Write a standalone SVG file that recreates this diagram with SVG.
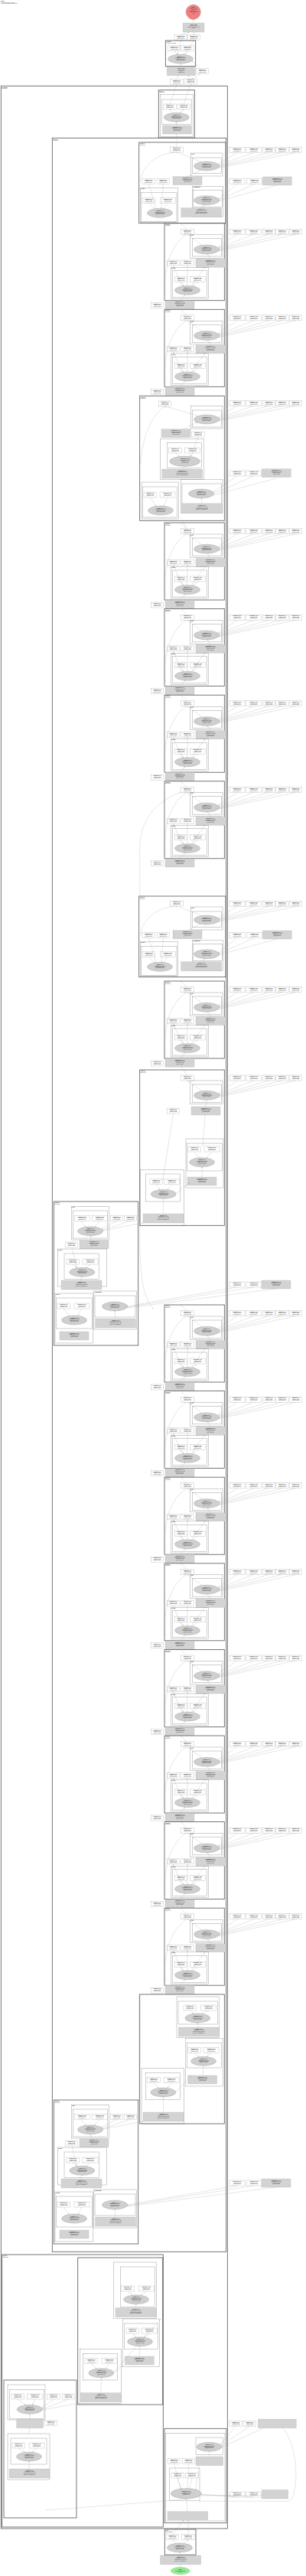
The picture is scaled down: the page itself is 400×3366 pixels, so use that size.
<svg xmlns="http://www.w3.org/2000/svg" width="400" height="3366" viewBox="0 0 400 3366">
<style>
.c{fill:none;stroke:#777;stroke-width:.35}
.k{fill:none;stroke:#555;stroke-width:.8}
.w{fill:#fff;stroke:#888;stroke-width:.25}
.g{fill:#d3d3d3;stroke:#aaa;stroke-width:.25}
.e{fill:#cfcfcf;stroke:#888;stroke-width:.3}
text{font-family:"Liberation Sans",Arial,sans-serif;font-size:1.35px;fill:#222}
.t{text-anchor:middle}
.b{font-weight:bold}
.l{fill:none;stroke:#999;stroke-width:.25;marker-end:url(#a)}
</style>
<defs>
<marker id="a" viewBox="0 0 4 4" refX="4" refY="2" markerWidth="1.1" markerHeight="1.1" markerUnits="userSpaceOnUse" orient="auto"><path d="M0,0L4,2L0,4z" fill="#888"/></marker>
<g id="w"><rect class="w" width="16.5" height="7"/><text class="t" x="8.25" y="2.3"><tspan class="b">batchnorm_2_8</tspan><tspan x="8.25" dy="1.5">1x256 (1.1 KB)</tspan><tspan x="8.25" dy="1.5">@running_mean</tspan></text></g>
<g id="W"><rect class="w" width="20" height="7"/><text class="t" x="10" y="2.3"><tspan class="b">batchnorm_2_8:2</tspan><tspan x="10" dy="1.5">1x256 (1.1 KB)</tspan><tspan x="10" dy="1.5">@bn.running_var</tspan></text></g>
<g id="gb"><rect class="g" width="38" height="11"/><text class="t" x="19" y="2.6"><tspan class="b">batchnorm_12_41</tspan><tspan x="19" dy="1.6">1x256x56x56 (3.1 MB)</tspan><tspan x="19" dy="1.6">params: 256, 256</tspan><tspan x="19" dy="1.6">@layer1.0.bn3</tspan></text></g>
<g id="gB"><rect class="g" width="53" height="12"/><text class="t" x="26.5" y="2.8"><tspan class="b">conv2d_13_42</tspan><tspan x="26.5" dy="1.6">1x256x56x56 (3.1 MB)</tspan><tspan x="26.5" dy="1.6">params: 256x64x1x1, 256</tspan><tspan x="26.5" dy="1.6">@layer1.0.downsample.0</tspan></text></g>
<g id="el"><ellipse class="e" rx="16.5" ry="6"/><text class="t" y="-2.3"><tspan class="b">conv2d_12_40</tspan><tspan x="0" dy="1.5">1x256x56x56 (3.1 MB)</tspan><tspan x="0" dy="1.5">params: 256x64x1x1</tspan><tspan x="0" dy="1.5">@layer1.0.conv3</tspan></text></g>
<g id="elB"><ellipse class="e" rx="20" ry="6.7"/><text class="t" y="-2.3"><tspan class="b">batchnorm_11_38</tspan><tspan x="0" dy="1.5">1x64x56x56 (784 KB)</tspan><tspan x="0" dy="1.5">params: 64, 64</tspan><tspan x="0" dy="1.5">@layer1.0.bn2</tspan></text></g>

<g id="nb">
<rect class="k" x="215" y="0" width="78.3" height="101"/>
<text x="216" y="2.2" class="b">@layer3.1</text><text x="216" y="3.7">(Bottleneck)</text>
<use href="#w" x="236.7" y="7.6"/>
<rect class="c" x="248.3" y="15" width="42.7" height="30.6"/><text x="249" y="16.7" class="b">@bn1</text>
<rect class="c" x="251.7" y="20" width="37.6" height="23.3"/>
<use href="#el" x="270" y="34.3"/>
<use href="#gb" x="256" y="46.6"/>
<use href="#w" x="218.3" y="48.3"/><use href="#w" x="236.7" y="48.3"/>
<rect class="c" x="223.3" y="57.6" width="49.4" height="41.4"/><text x="224" y="59.3" class="b">@conv1</text>
<rect class="c" x="225.5" y="62" width="45.2" height="35"/>
<use href="#w" x="228.3" y="70"/><use href="#W" x="248.3" y="70"/>
<use href="#el" x="245" y="87.6"/>
<use href="#gb" x="216" y="101.2"/>
<use href="#w" x="197.3" y="104"/>
<use href="#W" x="300" y="7.6"/><use href="#W" x="321.7" y="7.6"/><use href="#w" x="343.3" y="7.6"/><use href="#w" x="360.5" y="7.6"/><use href="#w" x="378.3" y="7.6"/>
</g>
<g id="nbE">
<path class="l" d="M310,14.6L285.5,31"/><path class="l" d="M331.7,14.6L286,32.5"/><path class="l" d="M351.5,14.6L286.3,33.8"/><path class="l" d="M368.7,14.6L286.3,35"/><path class="l" d="M386.5,14.6L286,36.3"/>
<path class="l" d="M264,28.7L245,14.8"/><path class="l" d="M275,46.6L271.5,40.3"/><path class="l" d="M250,81.8L268,57.4"/>
<path class="l" d="M238,81.8L226.5,55.5"/><path class="l" d="M245,81.6L245,55.5"/>
<path class="l" d="M236.5,77L240,81.5"/><path class="l" d="M258.3,77L252,81.7"/>
<path class="l" d="M235,101.2L242,93.5"/><path class="l" d="M216.2,96C213,60 222,30 243,14.8"/>
<path class="l" d="M244,7.6L236,-0.2"/>
</g>

<g id="wb">
<rect class="k" x="181.7" y="0" width="113.3" height="105.7"/>
<text x="182.7" y="2.2" class="b">@layer1.0</text><text x="182.7" y="3.7">(Bottleneck)</text>
<use href="#w" x="222.7" y="6"/>
<rect class="c" x="249.3" y="14" width="41.7" height="30"/><text x="250" y="15.7" class="b">@bn3</text>
<rect class="c" x="251.7" y="20" width="37.6" height="20.7"/>
<use href="#el" x="270" y="31"/>
<use href="#w" x="186" y="47.3"/><use href="#w" x="205" y="47.3"/>
<use href="#gb" x="226" y="44.7"/>
<use href="#W" x="300" y="47.3"/><use href="#W" x="322.7" y="47.3"/><use href="#gb" x="343.3" y="45"/>
<rect class="c" x="183.3" y="59.7" width="49.4" height="45"/><text x="184" y="61.4" class="b">@conv3</text>
<rect class="c" x="184.7" y="65.7" width="46.3" height="38"/>
<use href="#w" x="186.3" y="72.3"/><use href="#W" x="209.3" y="72.3"/>
<use href="#el" x="209" y="92.3"/>
<rect class="c" x="251.7" y="57.3" width="40" height="40"/><text x="252.5" y="59" class="b">@downsample</text>
<rect class="c" x="252.7" y="62.7" width="37.6" height="22"/>
<use href="#el" x="270" y="75.7"/>
<use href="#gB" x="236.7" y="85.7"/>
<use href="#W" x="300" y="6.7"/><use href="#W" x="321.7" y="6.7"/><use href="#w" x="343.3" y="6.7"/><use href="#w" x="360.5" y="6.7"/><use href="#w" x="378.3" y="6.7"/>
</g>
<g id="wbE">
<path class="l" d="M310,13.7L285.5,28"/><path class="l" d="M331.7,13.7L286,29.5"/><path class="l" d="M351.5,13.7L286.3,30.8"/><path class="l" d="M368.7,13.7L286.3,32"/><path class="l" d="M386.5,13.7L286,33.3"/>
<path class="l" d="M310,54.3L286,74"/><path class="l" d="M332.7,54.3L286.3,75.3"/><path class="l" d="M362,56L286.3,76.5"/>
<path class="l" d="M264,25.8L231.5,13"/><path class="l" d="M245,44.7L262,36.5"/>
<path class="l" d="M194.3,54.3L204,86.6"/><path class="l" d="M213.3,54.3L211,86.3"/>
<path class="l" d="M194.5,79.3L202,86.7"/><path class="l" d="M219.3,79.3L214,86.5"/>
<path class="l" d="M263,85.7L268,81.7"/>
<path class="l" d="M183.6,52C185,30 205,14 230.9,13"/>
</g>

<g id="lb">
<rect class="k" x="70.3" y="0" width="110.4" height="188"/>
<text x="71.3" y="2.2" class="b">@layer3.0</text><text x="71.3" y="3.7">(Bottleneck)</text>
<rect class="c" x="93.3" y="6.7" width="49.4" height="43.3"/><text x="94" y="8.4" class="b">@bn1</text>
<rect class="c" x="95.3" y="12" width="45.4" height="36"/>
<use href="#W" x="97.3" y="18.3"/><use href="#W" x="120.3" y="18.3"/>
<use href="#el" x="118" y="38.7"/>
<use href="#w" x="144.3" y="18.3"/><use href="#w" x="162.3" y="18.3"/>
<use href="#gb" x="104" y="50.7"/><use href="#w" x="85.3" y="53"/>
<rect class="c" x="75.3" y="62" width="64" height="49"/><text x="76" y="63.7" class="b">@conv1</text>
<rect class="c" x="84" y="68" width="45.7" height="33.7"/>
<use href="#w" x="87" y="75"/><use href="#W" x="108" y="75"/>
<use href="#el" x="107.3" y="92.3"/>
<use href="#gB" x="80" y="103"/>
<rect class="c" x="72" y="120" width="49.7" height="65"/><text x="72.7" y="121.7" class="b">@conv3</text>
<rect class="c" x="73.5" y="126" width="46.7" height="40"/>
<use href="#w" x="75" y="133"/><use href="#W" x="97" y="133"/>
<use href="#el" x="97" y="155"/>
<use href="#gb" x="78" y="170"/>
<rect class="c" x="122.7" y="117" width="55.6" height="50"/><text x="123.4" y="118.7" class="b">@downsample</text>
<rect class="c" x="124" y="123" width="53" height="28"/>
<use href="#el" x="150" y="137"/>
<use href="#gB" x="124.5" y="153"/>
<use href="#W" x="300" y="105"/><use href="#W" x="322" y="105"/><use href="#gb" x="342" y="103"/>
</g>
<g id="lbE">
<path class="l" d="M105.3,25.3L112,33"/><path class="l" d="M130.3,25.3L124,33"/>
<path class="l" d="M152.5,25.3L133,36"/><path class="l" d="M170.5,25.3L134,37.5"/>
<path class="l" d="M120,50.7L118,44.7"/><path class="l" d="M134.5,38L187,28"/>
<path class="l" d="M95,82L101,86.5"/><path class="l" d="M118,82L112,86.5"/>
<path class="l" d="M105,103L107,98.3"/><path class="l" d="M94,60L100,86.5"/>
<path class="l" d="M83,140L90,149.3"/><path class="l" d="M107,140L102,149.2"/>
<path class="l" d="M151,153L150,143"/>
<path class="l" d="M310,112L166,137"/><path class="l" d="M332,112L166.3,138"/><path class="l" d="M361,114L166.5,139"/>
</g>
</defs>

<g id="legend">
<text x="1" y="2.2" class="b">ResNet</text>
<text x="1" y="3.8">3,418 tensors total (640.7 MB)</text>
<text x="1" y="5.4">44,654,504 params total (170.5 MB)</text>
</g>

<g id="clusters">
<rect class="k" x="1.3" y="112.3" width="296" height="3191.7"/>
<text x="2.3" y="114.5" class="b">@backbone</text><text x="2.3" y="116">(Sequential)</text>
<rect class="k" x="68.3" y="180.3" width="227.4" height="2762"/>
<text x="69.3" y="182.5" class="b">@layer3</text><text x="69.3" y="184">(Sequential)</text>
<rect class="k" x="2.7" y="2946" width="210.6" height="356"/>
<text x="3.7" y="2948.2" class="b">@layer2</text><text x="3.7" y="2949.7">(Sequential)</text>
</g>

<g id="output">
<circle cx="252.7" cy="15.7" r="9.7" fill="#f08080" stroke="#999" stroke-width=".3"/>
<text class="t" x="252.7" y="10"><tspan class="b">output_1</tspan><tspan x="252.7" dy="1.6">1x1000 (4.0 KB)</tspan><tspan x="252.7" dy="1.6">@output</tspan><tspan x="252.7" dy="1.6">linear_1_339</tspan><tspan x="252.7" dy="1.6">params: 1000x2048</tspan><tspan x="252.7" dy="1.6">@fc</tspan></text>
</g>
<g id="fc">
<rect class="g" x="239" y="30" width="28" height="12"/>
<text class="t" x="253" y="32.6"><tspan class="b">linear_1_339</tspan><tspan x="253" dy="1.6">1x1000 (4.0 KB)</tspan><tspan x="253" dy="1.6">params: 1000x2048, 1000</tspan><tspan x="253" dy="1.6">@fc</tspan></text>
</g>
<g id="top_params"><use href="#w" x="228" y="45.7"/><use href="#w" x="245" y="45.7"/></g>
<g id="avgpool">
<rect class="k" x="216.3" y="53" width="39.4" height="33.7"/>
<text x="217.3" y="55" class="b">@avgpool</text><text x="217.3" y="56.5">(AdaptiveAvgPool2d)</text>
<use href="#w" x="219.3" y="59.3"/><use href="#w" x="236.7" y="59.3"/>
<use href="#el" x="236" y="77"/>
</g>
<g id="flat"><rect class="g" x="218.3" y="87.3" width="37" height="11.4"/>
<text class="t" x="236.8" y="90"><tspan class="b">flatten_1_338</tspan><tspan x="236.8" dy="1.6">1x2048 (8.1 KB)</tspan><tspan x="236.8" dy="1.6">@flatten</tspan><tspan x="236.8" dy="1.6">params: none</tspan></text></g>
<g id="p_top2"><use href="#w" x="256.3" y="89.3"/><use href="#w" x="222.7" y="103.3"/><use href="#w" x="241" y="103"/></g>

<g id="layer4_last">
<rect class="k" x="207.3" y="117.7" width="47" height="62.3"/>
<text x="208.3" y="119.7" class="b">@layer4</text><text x="208.3" y="121.2">(Sequential)</text>
<rect class="c" x="209.3" y="123.7" width="43.4" height="54.6"/>
<rect class="c" x="211.3" y="130" width="39.4" height="32.3"/>
<use href="#w" x="213.7" y="136"/><use href="#w" x="232" y="136"/>
<use href="#el" x="230.7" y="153.3"/>
<use href="#gb" x="212.5" y="164"/>
</g>

<g id="block_E"><use href="#wb" y="186"/></g>
<g id="block_H"><use href="#nb" y="291.7"/></g>
<g id="block_I"><use href="#nb" y="404.3"/></g>
<g id="block_J">
<rect class="k" x="182.7" y="517.3" width="110.6" height="163"/>
<text x="183.7" y="519.5" class="b">@layer3.0</text><text x="183.7" y="521">(Bottleneck)</text>
<use href="#w" x="207.3" y="524"/>
<rect class="c" x="249.3" y="530.7" width="41.7" height="29.3"/>
<rect class="c" x="251.7" y="536" width="37.6" height="22"/>
<use href="#el" x="270" y="548"/>
<use href="#W" x="300" y="523.3"/><use href="#W" x="321.7" y="523.3"/><use href="#w" x="343.3" y="523.3"/><use href="#w" x="360.5" y="523.3"/><use href="#w" x="378.3" y="523.3"/>
<use href="#gb" x="211" y="560.7"/><use href="#w" x="250.7" y="564"/>
<rect class="c" x="209.3" y="573.3" width="57.4" height="53.4"/>
<rect class="c" x="218.3" y="578.3" width="45" height="33.4"/>
<use href="#w" x="220.7" y="585"/><use href="#W" x="241.7" y="585"/>
<use href="#elB" x="241.7" y="602.7"/>
<use href="#gB" x="211.7" y="613"/>
<use href="#W" x="300" y="615"/><use href="#W" x="321.7" y="615"/><use href="#gb" x="342.3" y="612.7"/>
<rect class="c" x="185" y="630" width="48.3" height="48"/>
<rect class="c" x="186.5" y="636" width="45.3" height="40"/>
<use href="#w" x="188" y="643"/><use href="#W" x="209" y="643"/>
<use href="#el" x="210" y="667"/>
<rect class="c" x="236.7" y="626.7" width="54.3" height="44"/>
<rect class="c" x="238" y="632" width="51.5" height="26"/>
<use href="#el" x="263" y="645"/>
<use href="#gB" x="237.5" y="658.5"/>
</g>
<g id="blocks_a">
<use href="#nb" y="683"/><use href="#nb" y="795.6"/><use href="#nb" y="908.2"/><use href="#nb" y="1020.8"/>
</g>
<g id="block_W2"><use href="#wb" y="1171"/></g>
<g id="block_N2"><use href="#nb" y="1282"/></g>
<g id="block_S1">
<rect class="k" x="182.7" y="1398" width="110.6" height="203.3"/>
<text x="183.7" y="1400.2" class="b">@layer3.0</text><text x="183.7" y="1401.7">(Bottleneck)</text>
<use href="#w" x="236.7" y="1405"/>
<rect class="c" x="248.3" y="1412" width="42.7" height="30.6"/>
<rect class="c" x="251.7" y="1417" width="37.6" height="23.3"/>
<use href="#el" x="270" y="1431.3"/>
<use href="#gb" x="250" y="1446"/>
<use href="#w" x="218.3" y="1448"/>
<use href="#W" x="300" y="1405"/><use href="#W" x="321.7" y="1405"/><use href="#w" x="343.3" y="1405"/><use href="#w" x="360.5" y="1405"/><use href="#w" x="378.3" y="1405"/>
<rect class="c" x="243" y="1488" width="49" height="64"/>
<rect class="c" x="244.5" y="1494" width="46" height="36"/>
<use href="#w" x="246" y="1498"/><use href="#W" x="267" y="1498"/>
<use href="#el" x="264" y="1518.7"/>
<use href="#gb" x="245" y="1538"/>
<rect class="c" x="183.3" y="1528.3" width="57" height="73"/>
<rect class="c" x="190.3" y="1534" width="45.4" height="36"/>
<use href="#w" x="196" y="1540.7"/><use href="#W" x="214.7" y="1540.7"/>
<use href="#el" x="213.7" y="1560.3"/>
<use href="#gB" x="187" y="1586"/>
</g>
<g id="block_L1"><use href="#lb" y="1570"/></g>
<g id="blocks_b">
<use href="#nb" y="1705"/><use href="#nb" y="1817.6"/><use href="#nb" y="1930.2"/><use href="#nb" y="2042.8"/><use href="#nb" y="2155.4"/><use href="#nb" y="2268"/><use href="#nb" y="2380.6"/><use href="#nb" y="2493.2"/>
</g>
<g id="block_S2">
<rect class="k" x="182.7" y="2606" width="110.6" height="169"/>
<rect class="c" x="231" y="2609" width="55.7" height="53.7"/>
<rect class="c" x="233" y="2615" width="51.7" height="30"/>
<use href="#w" x="240" y="2620"/><use href="#W" x="262.7" y="2620"/>
<use href="#el" x="258.3" y="2637"/>
<use href="#gB" x="233.3" y="2649"/>
<rect class="c" x="242.3" y="2663.3" width="49" height="62.7"/>
<rect class="c" x="244.3" y="2669.3" width="45" height="32.7"/>
<use href="#w" x="246" y="2675.7"/><use href="#W" x="266" y="2675.7"/>
<use href="#el" x="266" y="2693.3"/>
<use href="#gb" x="245.7" y="2712"/>
<rect class="c" x="185" y="2702.7" width="55.3" height="72.3"/>
<rect class="c" x="190.3" y="2708.3" width="45.4" height="35"/>
<use href="#w" x="192.7" y="2714.7"/><use href="#W" x="214" y="2714.7"/>
<use href="#el" x="213.3" y="2734"/>
<use href="#gB" x="187" y="2760"/>
</g>
<g id="block_L2"><use href="#lb" y="2744"/></g>

<g id="block_K1">
<rect class="k" x="101.7" y="2950" width="111" height="192"/>
<rect class="c" x="148.3" y="2956" width="56" height="73.3"/>
<rect class="c" x="157.7" y="2962" width="44.6" height="52.3"/>
<use href="#w" x="158.7" y="2987"/><use href="#W" x="181.3" y="2987"/>
<use href="#el" x="178" y="3004.7"/>
<use href="#gB" x="151" y="3015.7"/>
<rect class="c" x="160.3" y="3030" width="48.4" height="62.7"/>
<rect class="c" x="162.3" y="3036" width="44.4" height="33.3"/>
<use href="#w" x="165" y="3042"/><use href="#W" x="185.3" y="3042"/>
<use href="#el" x="183" y="3059.7"/>
<use href="#gb" x="163.3" y="3079"/>
<rect class="c" x="104.3" y="3069.3" width="54" height="71.4"/>
<rect class="c" x="108.7" y="3075.7" width="45" height="34.3"/>
<use href="#w" x="111" y="3081.3"/><use href="#W" x="133" y="3081.3"/>
<use href="#el" x="132.3" y="3100.7"/>
<use href="#gB" x="105.5" y="3126.7"/>
</g>
<g id="block_K2">
<rect class="k" x="5" y="3110" width="95" height="180"/>
<rect class="c" x="10" y="3116" width="49" height="46"/>
<rect class="c" x="12.3" y="3122.3" width="45.4" height="38.4"/>
<use href="#w" x="15" y="3128"/><use href="#W" x="35.7" y="3128"/>
<use href="#el" x="38.7" y="3148.3"/>
<use href="#w" x="61.7" y="3128"/><use href="#w" x="81.3" y="3128"/>
<rect class="g" x="21.7" y="3161" width="35" height="11.7"/>
<use href="#w" x="58.3" y="3162.7"/>
<rect class="c" x="10" y="3180" width="55" height="60"/>
<rect class="c" x="14" y="3186" width="47" height="34"/>
<use href="#w" x="16" y="3192"/><use href="#W" x="38" y="3192"/>
<use href="#el" x="38" y="3210"/>
<use href="#gB" x="12" y="3226"/>
</g>
<g id="block_R">
<rect class="k" x="215" y="3173.3" width="81" height="123.4"/>
<rect class="c" x="216.7" y="3179.3" width="77.3" height="114.7"/>
<rect class="c" x="256" y="3185" width="35.7" height="22.3"/>
<use href="#el" x="273.3" y="3197.3"/>
<rect class="g" x="256" y="3210" width="35.7" height="11.7"/>
<use href="#w" x="219.3" y="3212.3"/><use href="#w" x="238.3" y="3212.3"/>
<rect class="c" x="221.7" y="3225" width="39.3" height="42.3"/>
<use href="#w" x="224" y="3231"/><use href="#w" x="242.7" y="3231"/>
<use href="#elB" x="243.3" y="3258.3"/>
<rect class="g" x="219" y="3281.7" width="52.7" height="11"/>
<use href="#w" x="300" y="3163.3"/><use href="#w" x="318.3" y="3163.3"/>
<rect class="g" x="337.3" y="3161" width="50" height="11.7"/>
<use href="#W" x="300" y="3256"/><use href="#W" x="321.7" y="3256"/>
<rect class="g" x="342.3" y="3253.3" width="34.4" height="11.7"/>
</g>
<g id="bn1">
<rect class="k" x="215.3" y="3305" width="40.7" height="33.3"/>
<text x="216.3" y="3307" class="b">@bn1</text><text x="216.3" y="3308.5">(BatchNorm2d)</text>
<use href="#w" x="217.3" y="3311.7"/><use href="#w" x="237.8" y="3311.7"/>
<use href="#el" x="235" y="3329"/>
</g>
<g id="conv1"><use href="#gB" x="209.5" y="3339"/></g>
<g id="input">
<ellipse cx="235.7" cy="3359.3" rx="12.3" ry="4.7" fill="#90ee90" stroke="#999" stroke-width=".3"/>
<text class="t" x="235.7" y="3358"><tspan class="b">input_1</tspan><tspan x="235.7" dy="1.6">1x3x224x224 (588 KB)</tspan><tspan x="235.7" dy="1.6">@input.x</tspan></text>
</g>

<g id="connectors">
<path class="l" d="M253,30L252.8,25.6"/>
<path class="l" d="M236.3,45.7L247,42.2"/><path class="l" d="M253.3,45.7L254,42.2"/>
<path class="l" d="M232,71.2L236.3,52.9"/><path class="l" d="M242,71.3L253,52.9"/>
<path class="l" d="M227.5,66.3L232,71.3"/><path class="l" d="M245,66.3L240,71.3"/>
<path class="l" d="M236.5,87.3L236,83.1"/><path class="l" d="M262,89.3L251,80"/>
<path class="l" d="M231,103.3L233,98.9"/><path class="l" d="M249.3,103L246,98.9"/><path class="l" d="M262,96.3L251,103"/>
<path class="l" d="M222,136L231,110.5"/><path class="l" d="M240,136L249.3,110"/>
<path class="l" d="M226,147.5L221.9,143.2"/><path class="l" d="M235,147.5L240.2,143.2"/>
<path class="l" d="M231,164L230.7,159.4"/><path class="l" d="M231,192L231,175.2"/>
<use href="#wbE" y="186"/>
<use href="#nbE" y="291.7"/><use href="#nbE" y="404.3"/>
<path class="l" d="M310,530.3L285.5,545"/><path class="l" d="M331.7,530.3L286,546.3"/><path class="l" d="M351.5,530.3L286.3,547.6"/><path class="l" d="M368.7,530.3L286.3,548.8"/><path class="l" d="M386.5,530.3L286,550"/>
<path class="l" d="M258,543L216,531"/><path class="l" d="M240,560.7L257,552"/>
<path class="l" d="M229,592L235,596.4"/><path class="l" d="M251.7,592L247,596.3"/>
<path class="l" d="M259,571L250,596.3"/><path class="l" d="M239,613L241,609.5"/>
<path class="l" d="M310,622L279,643"/><path class="l" d="M331.7,622L279.5,645"/><path class="l" d="M361,625L279.5,647"/>
<path class="l" d="M196,650L204,661.5"/><path class="l" d="M219,650L214,661"/>
<path class="l" d="M264,658.5L263.3,651.1"/>
<path class="l" d="M183.6,606C186,575 195,545 215.5,531.2"/>
<path class="l" d="M244,690.6L238,680"/>
<use href="#nbE" y="683"/><use href="#nbE" y="795.6"/><use href="#nbE" y="908.2"/><use href="#nbE" y="1020.8"/>
<path class="l" d="M182.8,1171L182.7,1110C182.7,1080 195,1050 236,1035.6"/>
<use href="#wbE" y="1171"/>
<use href="#nbE" y="1282"/>
<path class="l" d="M310,1412L285.5,1428"/><path class="l" d="M331.7,1412L286,1429.5"/><path class="l" d="M351.5,1412L286.3,1430.8"/><path class="l" d="M368.7,1412L286.3,1432"/><path class="l" d="M386.5,1412L286,1433.3"/>
<path class="l" d="M264,1425.7L245,1412.2"/><path class="l" d="M269,1446L270,1437.4"/><path class="l" d="M265,1498L268,1457.2"/>
<path class="l" d="M226.5,1455L213,1540.5"/><path class="l" d="M245,1405L237,1394.5"/>
<path class="l" d="M254,1505L260,1512.8"/><path class="l" d="M277,1505L270,1512.8"/><path class="l" d="M264,1538L264,1524.8"/>
<path class="l" d="M204,1547.7L209,1554.4"/><path class="l" d="M224.7,1547.7L219,1554.4"/><path class="l" d="M213.5,1586L213.7,1566.4"/>
<path class="l" d="M230,1560L248,1545"/>
<use href="#lbE" y="1570"/>
<path class="l" d="M183,1580C182,1640 182,1690 200,1710"/>
<use href="#nbE" y="1705"/><use href="#nbE" y="1817.6"/><use href="#nbE" y="1930.2"/><use href="#nbE" y="2042.8"/><use href="#nbE" y="2155.4"/><use href="#nbE" y="2268"/><use href="#nbE" y="2380.6"/><use href="#nbE" y="2493.2"/>
<path class="l" d="M248,2627L253,2631.2"/><path class="l" d="M272.7,2627L264,2631.2"/><path class="l" d="M259,2649L258.5,2643.1"/>
<path class="l" d="M254,2682.7L260,2687.4"/><path class="l" d="M276,2682.7L270,2687.4"/><path class="l" d="M265,2712L266,2699.4"/>
<path class="l" d="M200.7,2721.7L207,2728.2"/><path class="l" d="M224,2721.7L219,2728.2"/><path class="l" d="M213.5,2760L213.3,2740.1"/>
<path class="l" d="M230,2734L250,2712"/>
<path class="l" d="M181.7,2605L181.7,2745"/>
<use href="#lbE" y="2744"/>
<path class="l" d="M167,2994L173,2998.8"/><path class="l" d="M191.3,2994L184,2998.8"/><path class="l" d="M177.5,3015.7L178,3010.8"/>
<path class="l" d="M173,3049L178,3053.8"/><path class="l" d="M195.3,3049L188,3053.8"/><path class="l" d="M182,3079L183,3065.8"/>
<path class="l" d="M119,3088.3L126,3094.8"/><path class="l" d="M143,3088.3L138,3094.8"/><path class="l" d="M132,3126.7L132.3,3106.8"/>
<path class="l" d="M149,3100L160,3092"/><path class="l" d="M148.5,3100L210,3030"/>
<path class="l" d="M23,3135L33,3142.4"/><path class="l" d="M45.7,3135L42,3142.4"/>
<path class="l" d="M70,3135L55,3146"/><path class="l" d="M89.5,3135L55.2,3148"/><path class="l" d="M55,3149L104,3140"/>
<path class="l" d="M39,3161L38.7,3154.4"/><path class="l" d="M38,3180L38.5,3172.8"/>
<path class="l" d="M24,3199L32,3204.1"/><path class="l" d="M48,3199L42,3204.1"/><path class="l" d="M38,3226L38,3216"/>
<path class="l" d="M308,3170.3L288,3194"/><path class="l" d="M326.5,3170.3L289,3195.5"/><path class="l" d="M345,3172.7L289.6,3197.5"/>
<path class="l" d="M273.5,3210L273.3,3203.4"/>
<path class="l" d="M227.5,3219.3L236,3251.8"/><path class="l" d="M246.5,3219.3L245,3251.6"/>
<path class="l" d="M232,3238L237,3252"/><path class="l" d="M251,3238L248,3251.8"/>
<path class="l" d="M260,3221.7L256,3253"/>
<path class="l" d="M310,3262.7L263.3,3259"/><path class="l" d="M331.7,3262.7L263.3,3260"/><path class="l" d="M342.3,3260L263.3,3261"/>
<path class="l" d="M370,3172.7C392,3200 390,3262 378,3268.3L261,3268.3"/>
<path class="l" d="M60,3280L213.3,3268.3L243,3265.3"/>
<path class="l" d="M245,3281.7L244,3265.1"/>
<path class="l" d="M225.5,3311.7L240,3292.9"/><path class="l" d="M246,3311.7L246,3292.9"/>
<path class="l" d="M231,3323L225.5,3318.9"/><path class="l" d="M240,3323L246,3318.9"/>
<path class="l" d="M235.5,3339L235,3335.1"/><path class="l" d="M235.7,3354.6L235.7,3351.2"/>
</g>
</svg>
